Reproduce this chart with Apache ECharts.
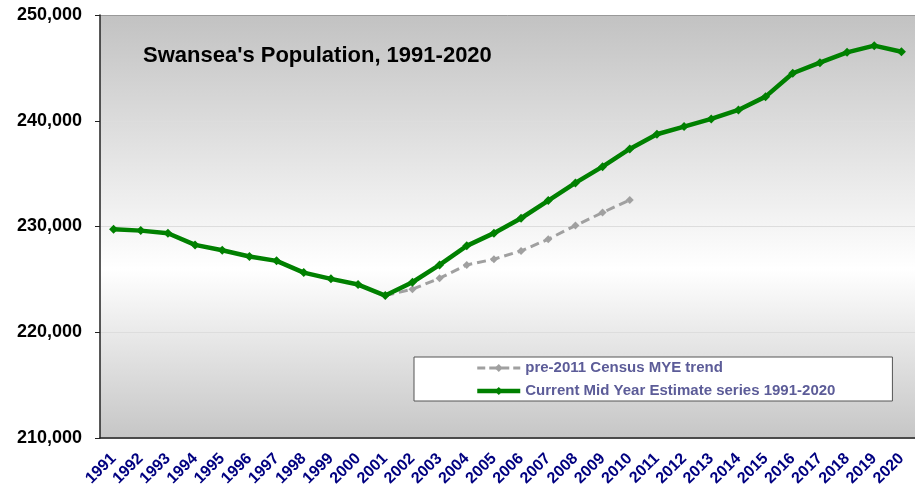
<!DOCTYPE html>
<html>
<head>
<meta charset="utf-8">
<script src="https://cdn.jsdelivr.net/npm/echarts@6/dist/echarts.min.js"></script>
<style>html,body{margin:0;padding:0;background:#fff;}#c{width:915px;height:494px;}</style>
</head>
<body>
<div id="c"></div>
<script>
const years = ['1991','1992','1993','1994','1995','1996','1997','1998','1999','2000','2001','2002','2003','2004','2005','2006','2007','2008','2009','2010','2011','2012','2013','2014','2015','2016','2017','2018','2019','2020'];
const currentMYE = [229750,229610,229360,228260,227750,227160,226750,225640,225050,224510,223470,224730,226370,228170,229370,230780,232450,234120,235660,237330,238720,239450,240170,241020,242280,244490,245490,246470,247100,246530];
const pre2011 = [null,null,null,null,null,null,null,null,null,null,223470,224070,225110,226370,226910,227690,228800,230090,231320,232510,null,null,null,null,null,null,null,null,null,null];
const yTicks = [210000,220000,230000,240000,250000];
const titleText = "Swansea's Population, 1991-2020";
const nameOld = 'pre-2011 Census MYE trend';
const nameNew = 'Current Mid Year Estimate series 1991-2020';

const chart = echarts.init(document.getElementById('c'));
chart.setOption({
  animation: false,
  backgroundColor: '#ffffff',
  title: {
    text: titleText, left: 143, top: 45, padding: 0,
    textStyle: { fontFamily: 'Liberation Sans, Arial', fontWeight: 'bold', fontSize: 22, color: '#000' }
  },
  legend: {
    orient: 'vertical', left: 414, top: 357,
    padding: [3, 57, 2, 61], itemGap: 7,
    itemWidth: 43, itemHeight: 10,
    backgroundColor: '#ffffff', borderColor: '#555', borderWidth: 1,
    data: [
      { name: nameOld, lineStyle: { width: 3, color: '#a0a0a0', type: [8, 4] } },
      { name: nameNew, lineStyle: { width: 4.5, color: '#008000' } }
    ],
    textStyle: { fontFamily: 'Liberation Sans, Arial', fontWeight: 'bold', fontSize: 15, color: '#5c5c98', lineHeight: 16 }
  },
  grid: {
    left: 100, top: 15, bottom: 56, right: -7,
    show: true, borderWidth: 0,
    backgroundColor: new echarts.graphic.LinearGradient(0, 0, 0, 1, [
      { offset: 0, color: '#c2c2c2' },
      { offset: 0.6, color: '#ffffff' },
      { offset: 1, color: '#c6c6c6' }
    ])
  },
  xAxis: {
    type: 'category', data: years, boundaryGap: true,
    axisLine: { lineStyle: { color: '#222', width: 1.5 } },
    axisTick: { interval: 0, length: 5, lineStyle: { color: '#222' } },
    axisLabel: { interval: 0, rotate: 45, margin: 18, color: '#000080', fontWeight: 'bold', fontSize: 16, fontFamily: 'Liberation Sans, Arial' }
  },
  yAxis: {
    type: 'value', min: yTicks[0], max: yTicks[yTicks.length - 1], interval: 10000,
    axisLine: { show: true, lineStyle: { color: '#222', width: 1.5 } },
    axisTick: { show: true, length: 5, lineStyle: { color: '#222' } },
    axisLabel: {
      margin: 18, color: '#000', fontWeight: 'bold', fontSize: 18, fontFamily: 'Liberation Sans, Arial',
      formatter: v => v.toLocaleString('en-GB')
    },
    splitLine: { show: true, lineStyle: { color: ['#cccccc', '#dddddd', '#dddddd', '#dddddd', '#999999'], width: 1 } }
  },
  series: [
    {
      name: nameOld, type: 'line', data: pre2011, connectNulls: false,
      symbol: 'diamond', symbolSize: 8, z: 2,
      lineStyle: { color: '#a0a0a0', width: 3, type: [9, 5] },
      itemStyle: { color: '#a0a0a0' }
    },
    {
      name: nameNew, type: 'line', data: currentMYE,
      symbol: 'diamond', symbolSize: 9, z: 3,
      lineStyle: { color: '#008000', width: 4.5 },
      itemStyle: { color: '#008000' }
    }
  ]
});
</script>
</body>
</html>
